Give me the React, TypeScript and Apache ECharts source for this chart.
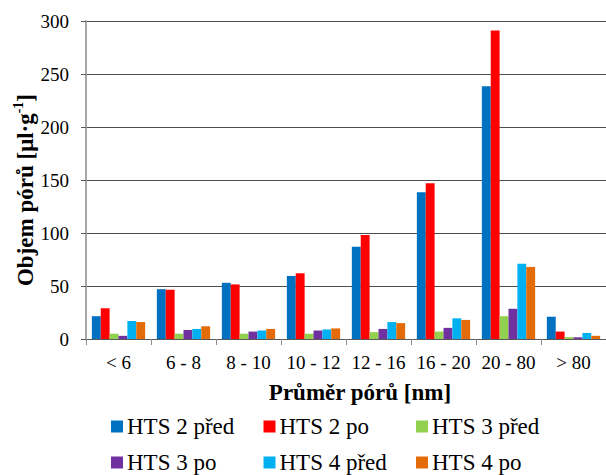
import React, { useEffect, useRef } from "react";
import * as echarts from "echarts";

const categories = ["< 6", "6 - 8", "8 - 10", "10 - 12", "12 - 16", "16 - 20", "20 - 80", "> 80"];
const seriesNames = ["HTS 2 před", "HTS 2 po", "HTS 3 před", "HTS 3 po", "HTS 4 před", "HTS 4 po"];
const hts2Pred = [21.5, 47, 53, 59.5, 87, 138.5, 238.5, 21];
const hts2Po = [29, 46.5, 51.5, 62, 98, 147, 291, 7];
const hts3Pred = [5, 5, 5, 5, 6.5, 7, 21.5, 1.8];
const hts3Po = [3, 8.5, 7, 8, 9.5, 10.5, 28.5, 1.6];
const hts4Pred = [17, 9.5, 8, 9, 16, 19.5, 71, 5.7];
const hts4Po = [16, 12, 9.5, 10, 15, 18, 68, 3];
const yTicks = { min: 0, max: 300, interval: 50 };

const colors = ["#0070C0", "#FF0000", "#92D050", "#7030A0", "#00B0F0", "#E36C09"];
const FONT = "Liberation Serif, Times New Roman, serif";

export default function App() {
  const ref = useRef<HTMLDivElement>(null);
  useEffect(() => {
    if (!ref.current) return;
    const chart = echarts.init(ref.current, null, { renderer: "svg" });
    const values = [hts2Pred, hts2Po, hts3Pred, hts3Po, hts4Pred, hts4Po];
    const legendLefts = [111, 263.5, 416];
    const legendTops = [414.5, 450.5];
    const legends = seriesNames.map((n, i) => ({
      data: [n],
      left: legendLefts[i % 3],
      top: legendTops[Math.floor(i / 3)],
      padding: 0,
      itemWidth: 12,
      itemHeight: 12,
      itemGap: 0,
      icon: "rect",
      selectedMode: false,
      textStyle: { fontFamily: FONT, fontSize: 23, color: "#000", lineHeight: 24, padding: [0, 0, 0, -1] },
    }));
    chart.setOption({
      animation: false,
      color: colors,
      textStyle: { fontFamily: FONT },
      grid: { left: 86, right: 0, top: 21, bottom: 136, containLabel: false },
      legend: legends,
      xAxis: {
        type: "category",
        data: categories,
        axisLine: { show: true, lineStyle: { color: "#595959", width: 1 } },
        axisTick: { show: true, length: 6, lineStyle: { color: "#8c8c8c" } },
        axisLabel: { fontFamily: FONT, fontSize: 19, color: "#000", margin: 14, interval: 0 },
      },
      yAxis: {
        type: "value",
        min: yTicks.min,
        max: yTicks.max,
        interval: yTicks.interval,
        axisLine: { show: true, lineStyle: { color: "#a6a6a6", width: 2 } },
        axisTick: { show: true, length: 5, lineStyle: { color: "#595959" } },
        splitLine: { show: true, lineStyle: { color: "#4d4d4d", width: 1 } },
        axisLabel: { fontFamily: FONT, fontSize: 19, color: "#000", margin: 17 },
      },
      graphic: [
        {
          type: "text",
          x: 360,
          y: 392,
          style: {
            text: "Průměr pórů [nm]",
            fontFamily: FONT,
            fontSize: 23,
            fontWeight: "bold",
            fill: "#000",
            align: "center",
            verticalAlign: "middle",
          },
        },
        {
          type: "text",
          x: 24,
          y: 190,
          rotation: Math.PI / 2,
          style: {
            text: "{b|Objem pórů [μl·g}{s|-1}{b|]}",
            align: "center",
            verticalAlign: "middle",
            fontFamily: FONT,
            fontWeight: "bold",
            fontSize: 23,
            fill: "#000",
            rich: {
              b: { fontFamily: FONT, fontWeight: "bold", fontSize: 23, fill: "#000", lineHeight: 26, verticalAlign: "bottom" },
              s: { fontFamily: FONT, fontWeight: "bold", fontSize: 14, fill: "#000", lineHeight: 26, verticalAlign: "top" },
            },
          },
        },
      ],
      series: values.map((d, i) => ({
        name: seriesNames[i],
        type: "bar",
        data: d,
        barGap: "0%",
        barCategoryGap: "18%",
      })),
    });
    return () => chart.dispose();
  }, []);
  return <div ref={ref} style={{ position: "absolute", left: 0, top: 0, width: 606, height: 475 }} />;
}
